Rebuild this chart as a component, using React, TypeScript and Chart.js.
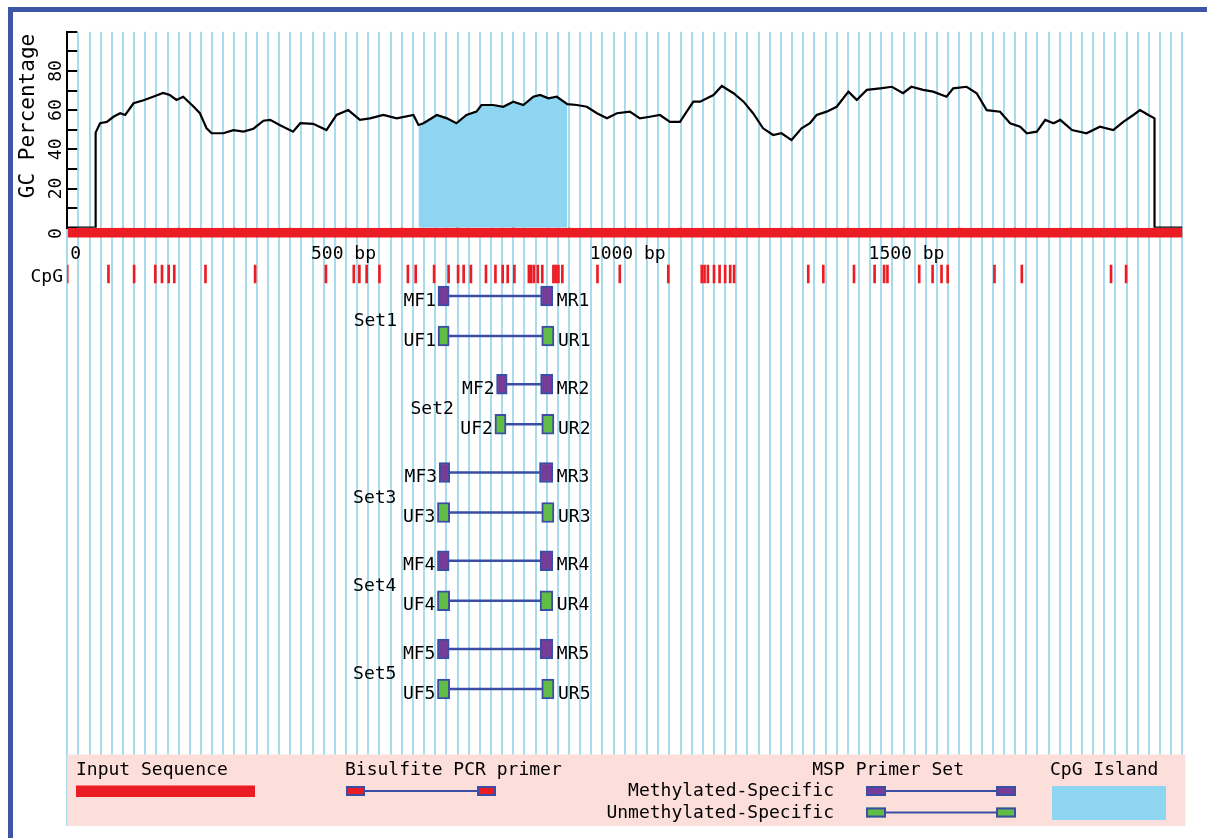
import React, { useEffect, useRef } from 'react';
import { Chart, registerables } from 'chart.js';

Chart.register(...registerables);

// ---------------- data ----------------
const SEQ_LENGTH = 2000;

// GC percentage (sliding window): positions (bp) and values (%)
const GC_POS = [0, 51, 51, 59, 71, 83, 95, 104, 119, 137, 154, 172, 184, 196, 208, 226, 238, 250, 259, 280, 298, 316, 334, 352, 364, 381, 405, 418, 441, 465, 483, 504, 525, 543, 567, 591, 621, 630, 639, 663, 681, 698, 716, 734, 743, 764, 782, 800, 818, 836, 848, 863, 878, 897, 914, 932, 950, 968, 986, 1009, 1027, 1045, 1063, 1081, 1099, 1111, 1123, 1135, 1159, 1174, 1195, 1213, 1230, 1248, 1266, 1281, 1299, 1317, 1332, 1344, 1362, 1380, 1401, 1416, 1434, 1458, 1479, 1499, 1514, 1535, 1553, 1577, 1589, 1613, 1631, 1649, 1673, 1691, 1709, 1721, 1739, 1754, 1769, 1781, 1802, 1828, 1852, 1876, 1894, 1912, 1924, 1939, 1950, 1950, 2000];
const GC_VAL = [0, 0, 48.5, 53.3, 54, 56.6, 58.4, 57.5, 63.5, 65, 66.8, 68.8, 67.7, 65.2, 66.8, 62, 58.4, 50.7, 48.2, 48.2, 49.8, 49, 50.5, 54.6, 55, 52.4, 49, 53.3, 53, 49.8, 57.5, 60, 55, 55.8, 57.5, 55.8, 57.5, 52.4, 53.3, 57.5, 55.8, 53.3, 57.5, 59.2, 62.6, 62.6, 61.7, 64.3, 62.6, 66.8, 67.7, 66, 66.8, 63, 62.6, 61.7, 58.4, 55.8, 58.4, 59.2, 55.8, 56.6, 57.5, 54, 54, 59.2, 64.3, 64.3, 67.7, 72.3, 68.6, 64.3, 58.4, 50.7, 47.3, 48.2, 44.7, 50.7, 53.3, 57.5, 59.2, 61.7, 69.4, 65.2, 70.3, 71.1, 71.9, 68.6, 71.9, 70.3, 69.4, 66.8, 71.1, 71.9, 68.6, 60, 59.2, 53.3, 51.5, 48.2, 49, 55, 53.3, 55, 49.8, 48.2, 51.5, 49.8, 54, 57.5, 60, 57.5, 55.8, 0, 0];

const ISLAND_START = 630;
const ISLAND_END = 897;

const CPG_POS = [0, 74, 120, 158, 170, 182, 192, 248, 337, 464, 514, 524, 537, 560, 611, 625, 658, 684, 701, 711, 724, 751, 768, 781, 790, 802, 828, 832, 837, 844, 852, 872, 876, 881, 888, 951, 991, 1078, 1138, 1143, 1149, 1160, 1170, 1180, 1189, 1196, 1329, 1356, 1411, 1448, 1465, 1471, 1528, 1552, 1568, 1579, 1663, 1712, 1872, 1899];

const RULER_STEP = 100;
const RULER_MAJOR = 500;
const GRID_STEP = 20;

const X_LABEL_POS = [0, 500, 1000, 1500];
const X_LABELS = ['0', '500 bp', '1000 bp', '1500 bp'];
const Y_LABEL_VALUES = [0, 20, 40, 60, 80];
const Y_TITLE = 'GC Percentage';
const CPG_LABEL = 'CpG';

const SET_LABELS = ['Set1', 'Set2', 'Set3', 'Set4', 'Set5'];
const MF_START = [665, 770, 667, 664, 664];
const MF_END = [685, 789, 686, 685, 685];
const MR_START = [849, 849, 847, 848, 848];
const MR_END = [871, 871, 871, 871, 871];
const UF_START = [665, 767, 664, 664, 664];
const UF_END = [685, 787, 686, 686, 686];
const UR_START = [851, 851, 851, 848, 851];
const UR_END = [873, 873, 873, 871, 873];

const LEGEND_INPUT = 'Input Sequence';
const LEGEND_BISULFITE = 'Bisulfite PCR primer';
const LEGEND_MSP = 'MSP Primer Set';
const LEGEND_METH = 'Methylated-Specific';
const LEGEND_UNMETH = 'Unmethylated-Specific';
const LEGEND_ISLAND = 'CpG Island';

// ---------------- layout & style ----------------
const W = 1207;
const H = 838;
const PLOT_LEFT = 67.2;
const PLOT_TOP = 31.7;
const PLOT_RIGHT = 1182.4;
const PLOT_BOTTOM = 826;
const AXIS_W = 40;
const GC_HEIGHT = 196;
const TRACK_HEIGHT = PLOT_BOTTOM - PLOT_TOP - GC_HEIGHT;

// track rows, in pixels below the GC zero line
const SEQ_ROW = 5;
const SEQ_THICK = 9;
const RULER_MINOR_LEN = 8;
const RULER_MAJOR_LEN = 11;
const CPG_TOP = 37.3;
const CPG_BOTTOM = 55.3;
const SET_FIRST = 68.3;
const SET_STEP = 88.25;
const MU_GAP = 40;
const BOX_H = 20;

const LEG_TOP = 754.5;

const RED = '#ec1c24';
const BLUE = '#3a4ea6';
const PURPLE = '#773c97';
const GREEN = '#62bd47';
const ISLAND = '#8ed5f1';
const GRID = '#a8dcec';
const PINK = '#fcdedb';
const FRAME = '#3d55a5';
const TEXT = '#000';
const FONT = '18px "DejaVu Sans Mono", monospace';
const TITLE_FONT = '21px "DejaVu Sans Mono", monospace';

function drawText(ctx: CanvasRenderingContext2D, s: string, x: number, y: number, align: CanvasTextAlign = 'left', font = FONT, baseline: CanvasTextBaseline = 'alphabetic') {
  ctx.save();
  ctx.font = font;
  ctx.fillStyle = TEXT;
  ctx.textAlign = align;
  ctx.textBaseline = baseline;
  ctx.fillText(s, x, y);
  ctx.restore();
}

function drawRotated(ctx: CanvasRenderingContext2D, s: string, x: number, y: number, font: string) {
  ctx.save();
  ctx.translate(x, y);
  ctx.rotate(-Math.PI / 2);
  ctx.font = font;
  ctx.fillStyle = TEXT;
  ctx.textAlign = 'center';
  ctx.textBaseline = 'middle';
  ctx.fillText(s, 0, 0);
  ctx.restore();
}

function drawGlyph(ctx: CanvasRenderingContext2D, x1: number, x2: number, bw: number, y: number, h: number, fill: string) {
  ctx.save();
  ctx.strokeStyle = BLUE;
  ctx.lineWidth = 2;
  ctx.beginPath();
  ctx.moveTo(x1 + bw, y);
  ctx.lineTo(x2, y);
  ctx.stroke();
  for (const bx of [x1, x2]) {
    ctx.fillStyle = fill;
    ctx.fillRect(bx, y - h / 2, bw, h);
    ctx.strokeRect(bx + 1, y - h / 2 + 1, bw - 2, h - 2);
  }
  ctx.restore();
}

const overlayPlugin = {
  id: 'overlay',
  beforeDatasetsDraw(chart: any) {
    const { ctx, chartArea } = chart;
    ctx.save();
    ctx.fillStyle = PINK;
    ctx.fillRect(chartArea.left, LEG_TOP, chartArea.right - chartArea.left + 3, chartArea.bottom - LEG_TOP);
    ctx.restore();

    // legend content
    drawText(ctx, LEGEND_INPUT, 76, 775);
    ctx.save();
    ctx.fillStyle = RED;
    ctx.fillRect(76, 785.5, 179, 11.5);
    ctx.restore();

    drawText(ctx, LEGEND_BISULFITE, 345, 775);
    drawGlyph(ctx, 346, 477, 19, 791, 10, RED);

    drawText(ctx, LEGEND_MSP, 964, 775, 'right');
    drawText(ctx, LEGEND_METH, 834, 796, 'right');
    drawText(ctx, LEGEND_UNMETH, 834, 818, 'right');
    drawGlyph(ctx, 866, 996, 20, 791, 10, PURPLE);
    drawGlyph(ctx, 866, 996, 20, 812.5, 10, GREEN);

    drawText(ctx, LEGEND_ISLAND, 1050, 775);
    ctx.save();
    ctx.fillStyle = ISLAND;
    ctx.fillRect(1052, 786, 114, 34);
    ctx.restore();
  },
  afterDatasetsDraw(chart: any) {
    const { ctx } = chart;
    const xs = chart.scales.x;
    const gc = chart.scales.gc;
    const tr = chart.scales.tracks;

    // y axis labels & title
    Y_LABEL_VALUES.forEach((v) => {
      drawRotated(ctx, String(v), 56, gc.getPixelForValue(v) + (v === 0 ? 6 : 0), FONT);
    });
    drawRotated(ctx, Y_TITLE, 29, 116, TITLE_FONT);

    // x labels
    const labelBase = tr.getPixelForValue(0) + 31;
    X_LABEL_POS.forEach((p, i) => {
      const px = xs.getPixelForValue(p);
      drawText(ctx, X_LABELS[i], p === 0 ? px + 3 : px - 35, labelBase);
    });

    // CpG row label
    drawText(ctx, CPG_LABEL, 63, tr.getPixelForValue(CPG_BOTTOM) - 1.5, 'right');

    // primer labels
    SET_LABELS.forEach((setLabel, i) => {
      const n = i + 1;
      const yM = tr.getPixelForValue(SET_FIRST + i * SET_STEP);
      const yU = tr.getPixelForValue(SET_FIRST + i * SET_STEP + MU_GAP);
      drawText(ctx, 'MF' + n, xs.getPixelForValue(MF_START[i]) - 2, yM + 9.5, 'right');
      drawText(ctx, 'MR' + n, xs.getPixelForValue(MR_END[i]) + 4, yM + 9.5, 'left');
      drawText(ctx, 'UF' + n, xs.getPixelForValue(UF_START[i]) - 2, yU + 9.5, 'right');
      drawText(ctx, 'UR' + n, xs.getPixelForValue(UR_END[i]) + 4, yU + 9.5, 'left');
      const left = Math.min(xs.getPixelForValue(MF_START[i]), xs.getPixelForValue(UF_START[i]));
      drawText(ctx, setLabel, left - 41, (yM + yU) / 2 + 10, 'right');
    });
  },
};

function buildConfig(): any {
  const gcPoints = GC_POS.map((x, i) => ({ x, y: GC_VAL[i] }));
  const islandPoints = gcPoints.filter((p) => p.x >= ISLAND_START && p.x <= ISLAND_END);

  const rulerData: any[] = [];
  for (let p = RULER_STEP; p < SEQ_LENGTH; p += RULER_STEP) {
    rulerData.push({ x: p, y: [p % RULER_MAJOR === 0 ? -RULER_MAJOR_LEN : -RULER_MINOR_LEN, 0] });
  }
  const cpgData = CPG_POS.map((p) => ({ x: p, y: [CPG_TOP, CPG_BOTTOM] }));

  const mBoxes: any[] = [];
  const uBoxes: any[] = [];
  const links: any[] = [];
  SET_LABELS.forEach((_, i) => {
    const mRow = SET_FIRST + i * SET_STEP;
    const uRow = mRow + MU_GAP;
    mBoxes.push({ x: [MF_START[i], MF_END[i]], y: mRow }, { x: [MR_START[i], MR_END[i]], y: mRow });
    uBoxes.push({ x: [UF_START[i], UF_END[i]], y: uRow }, { x: [UR_START[i], UR_END[i]], y: uRow });
    links.push({ x: [MF_END[i], MR_START[i]], y: mRow }, { x: [UF_END[i], UR_START[i]], y: uRow });
  });

  const hBar = (extra: any) => ({
    type: 'bar',
    indexAxis: 'y',
    xAxisID: 'x',
    yAxisID: 'tracks',
    grouped: false,
    borderSkipped: false,
    ...extra,
  });
  const vBar = (extra: any) => ({
    type: 'bar',
    indexAxis: 'x',
    xAxisID: 'x',
    yAxisID: 'tracks',
    grouped: false,
    borderSkipped: false,
    ...extra,
  });

  return {
    type: 'line',
    data: {
      datasets: [
        {
          type: 'line',
          label: 'GC',
          data: gcPoints,
          xAxisID: 'x',
          yAxisID: 'gc',
          borderColor: '#000',
          borderWidth: 2.2,
          pointRadius: 0,
          fill: false,
          tension: 0,
          order: 0,
        },
        {
          type: 'line',
          label: 'CpG island',
          data: islandPoints,
          xAxisID: 'x',
          yAxisID: 'gc',
          borderColor: 'rgba(0,0,0,0)',
          borderWidth: 0,
          pointRadius: 0,
          fill: 'origin',
          backgroundColor: ISLAND,
          tension: 0,
          order: 5,
        },
        hBar({ label: 'Input sequence', data: [{ x: [0, SEQ_LENGTH], y: SEQ_ROW }], barThickness: SEQ_THICK, backgroundColor: RED, borderWidth: 0, order: 3 }),
        vBar({ label: 'Ruler', data: rulerData, barThickness: 2, backgroundColor: RED, borderWidth: 0, order: 3 }),
        vBar({ label: 'CpG', data: cpgData, barThickness: 2, backgroundColor: RED, borderWidth: 0, order: 3 }),
        hBar({ label: 'Links', data: links, barThickness: 2, backgroundColor: BLUE, borderWidth: 0, order: 2 }),
        hBar({ label: 'Methylated', data: mBoxes, barThickness: BOX_H, backgroundColor: PURPLE, borderColor: BLUE, borderWidth: 2, order: 1 }),
        hBar({ label: 'Unmethylated', data: uBoxes, barThickness: BOX_H, backgroundColor: GREEN, borderColor: BLUE, borderWidth: 2, order: 1 }),
      ],
    },
    options: {
      responsive: false,
      animation: false,
      events: [],
      layout: {
        padding: {
          left: PLOT_LEFT - AXIS_W,
          top: PLOT_TOP,
          right: W - PLOT_RIGHT,
          bottom: H - PLOT_BOTTOM,
        },
      },
      plugins: {
        legend: { display: false },
        tooltip: { enabled: false },
        title: { display: false },
      },
      scales: {
        x: {
          type: 'linear',
          position: 'bottom',
          min: 0,
          max: SEQ_LENGTH,
          offset: false,
          ticks: { stepSize: GRID_STEP, display: false, autoSkip: false },
          grid: { color: GRID, lineWidth: 2, drawTicks: false, offset: false },
          border: { display: false },
          afterFit: (s: any) => { s.height = 0; },
        },
        tracks: {
          type: 'linear',
          position: 'left',
          stack: 'v',
          stackWeight: TRACK_HEIGHT,
          min: 0,
          max: TRACK_HEIGHT,
          reverse: true,
          offset: false,
          display: false,
          afterFit: (s: any) => { s.width = AXIS_W; },
        },
        gc: {
          type: 'linear',
          position: 'left',
          stack: 'v',
          stackWeight: GC_HEIGHT,
          min: 0,
          max: 100,
          offset: false,
          ticks: { stepSize: 10, display: false },
          grid: { drawOnChartArea: false, drawTicks: true, tickLength: -10, color: '#000', lineWidth: 2, offset: false },
          border: { display: true, color: '#000', width: 2 },
          afterFit: (s: any) => { s.width = AXIS_W; },
        },
      },
    },
    plugins: [overlayPlugin],
  };
}

export default function App() {
  const ref = useRef<HTMLCanvasElement>(null);
  useEffect(() => {
    if (!ref.current) return;
    const chart = new Chart(ref.current, buildConfig());
    return () => chart.destroy();
  }, []);
  return (
    <div style={{ position: 'fixed', left: 0, top: 0, width: W, height: H, background: '#fff', overflow: 'hidden' }}>
      <div
        style={{
          position: 'absolute',
          left: 8,
          top: 7,
          width: W,
          height: H,
          borderLeft: `5px solid ${FRAME}`,
          borderTop: `5px solid ${FRAME}`,
          boxSizing: 'border-box',
        }}
      />
      <canvas ref={ref} width={W} height={H} style={{ position: 'absolute', left: 0, top: 0, width: W, height: H }} />
    </div>
  );
}
